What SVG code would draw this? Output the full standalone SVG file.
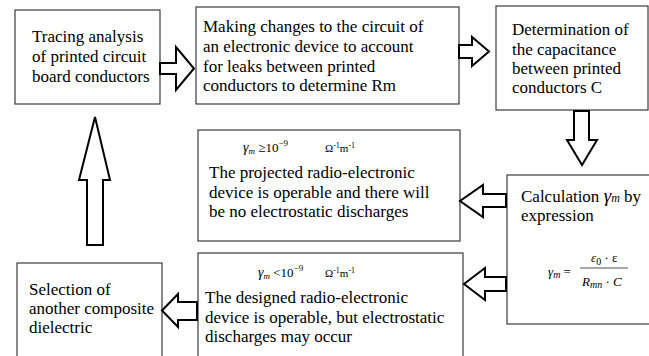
<svg xmlns="http://www.w3.org/2000/svg" width="649" height="356" viewBox="0 0 649 356">
<rect width="649" height="356" fill="#fff"/>
<g id="node-tracing">
<rect x="15" y="10" width="145" height="94" fill="#fff" stroke="#3a3a3a" stroke-width="1.2"/>
<text font-family="Liberation Serif, serif" font-size="17" x="32" y="42">Tracing analysis</text>
<text font-family="Liberation Serif, serif" font-size="17" x="32" y="62">of printed circuit</text>
<text font-family="Liberation Serif, serif" font-size="17" x="32" y="82">board conductors</text>
</g>
<g id="node-changes">
<rect x="196" y="7" width="263" height="97" fill="#fff" stroke="#3a3a3a" stroke-width="1.2"/>
<text font-family="Liberation Serif, serif" font-size="17" x="203" y="32">Making changes to the circuit of</text>
<text font-family="Liberation Serif, serif" font-size="17" x="203" y="52">an electronic device to account</text>
<text font-family="Liberation Serif, serif" font-size="17" x="203" y="72">for leaks between printed</text>
<text font-family="Liberation Serif, serif" font-size="17" x="203" y="91">conductors to determine Rm</text>
</g>
<g id="node-capacitance">
<rect x="496" y="6" width="152" height="104" fill="#fff" stroke="#3a3a3a" stroke-width="1.2"/>
<text font-family="Liberation Serif, serif" font-size="17" x="512" y="35">Determination of</text>
<text font-family="Liberation Serif, serif" font-size="17" x="512" y="55">the capacitance</text>
<text font-family="Liberation Serif, serif" font-size="17" x="512" y="74">between printed</text>
<text font-family="Liberation Serif, serif" font-size="17" x="512" y="93">conductors C</text>
</g>
<g id="node-calculation">
<rect x="507" y="175" width="150" height="149" fill="#fff" stroke="#3a3a3a" stroke-width="1.2"/>
<text font-family="Liberation Serif, serif" font-size="17" x="521" y="202">Calculation <tspan font-style="italic" font-size="19">γ</tspan><tspan font-style="italic" font-size="12">m</tspan> by</text>
<text font-family="Liberation Serif, serif" font-size="17" x="521" y="221">expression</text>
<text font-family="Liberation Serif, serif" font-size="13" font-style="italic" x="548" y="276">γ<tspan font-size="10" dy="2">m</tspan><tspan font-style="normal" dy="-2"> =</tspan></text>
<line x1="580" y1="268" x2="628" y2="268" stroke="#222" stroke-width="0.8"/>
<text font-family="Liberation Serif, serif" font-size="13" font-style="italic" x="591" y="262">ε<tspan font-style="normal" font-size="10" dy="3">0</tspan><tspan font-style="normal" dy="-3"> · ε</tspan></text>
<text font-family="Liberation Serif, serif" font-size="13" font-style="italic" x="582" y="286">R<tspan font-size="10" dy="2">mn</tspan><tspan font-style="normal" dy="-2"> · </tspan>C</text>
</g>
<g id="node-operable">
<rect x="198" y="130" width="262" height="111" fill="#fff" stroke="#3a3a3a" stroke-width="1.2"/>
<text font-family="Liberation Serif, serif" font-size="13" x="243" y="152"><tspan font-style="italic" font-size="14">γ</tspan><tspan font-style="italic" font-size="9" dy="2">m</tspan><tspan dy="-2"> ≥10</tspan><tspan font-size="9" dy="-6">−9</tspan></text>
<text font-family="Liberation Serif, serif" font-size="11" x="325" y="152">Ω<tspan font-size="8" dy="-4">-1</tspan><tspan dy="4">m</tspan><tspan font-size="8" dy="-4">-1</tspan></text>
<text font-family="Liberation Serif, serif" font-size="17" x="209" y="178">The projected radio-electronic</text>
<text font-family="Liberation Serif, serif" font-size="17" x="209" y="198">device is operable and there will</text>
<text font-family="Liberation Serif, serif" font-size="17" x="209" y="217">be no electrostatic discharges</text>
</g>
<g id="node-discharges">
<rect x="198" y="253" width="265" height="110" fill="#fff" stroke="#3a3a3a" stroke-width="1.2"/>
<text font-family="Liberation Serif, serif" font-size="13" x="258" y="277"><tspan font-style="italic" font-size="14">γ</tspan><tspan font-style="italic" font-size="9" dy="2">m</tspan><tspan dy="-2"> &lt;10</tspan><tspan font-size="9" dy="-6">−9</tspan></text>
<text font-family="Liberation Serif, serif" font-size="11" x="325" y="277">Ω<tspan font-size="8" dy="-4">-1</tspan><tspan dy="4">m</tspan><tspan font-size="8" dy="-4">-1</tspan></text>
<text font-family="Liberation Serif, serif" font-size="17" x="205" y="303">The designed radio-electronic</text>
<text font-family="Liberation Serif, serif" font-size="17" x="205" y="323">device is operable, but electrostatic</text>
<text font-family="Liberation Serif, serif" font-size="17" x="205" y="342">discharges may occur</text>
</g>
<g id="node-selection">
<rect x="17" y="263" width="145" height="100" fill="#fff" stroke="#3a3a3a" stroke-width="1.2"/>
<text font-family="Liberation Serif, serif" font-size="17" x="29" y="295">Selection of</text>
<text font-family="Liberation Serif, serif" font-size="17" x="29" y="314">another composite</text>
<text font-family="Liberation Serif, serif" font-size="17" x="29" y="333">dielectric</text>
</g>
<g id="connectors" fill="#fff" stroke="#000" stroke-width="2">
<polygon points="160,63 176,63 176,47 194,68.5 176,90 176,74 160,74"/>
<polygon points="459,45 472,45 472,37 489,51.5 472,66 472,58 459,58"/>
<polygon points="574,111 589,111 589,140 597,140 582,165 567,140 574,140"/>
<polygon points="506,194 483,194 483,185 460,201 483,217 483,207 506,207"/>
<polygon points="506,277 485,277 485,268 464,284 485,300 485,291 506,291"/>
<polygon points="197,302 178,302 178,294 162,310.5 178,327 178,320 197,320"/>
<polygon points="87,245 87,180 79,180 95,117 110,180 103,180 103,245"/>
</g>
</svg>
